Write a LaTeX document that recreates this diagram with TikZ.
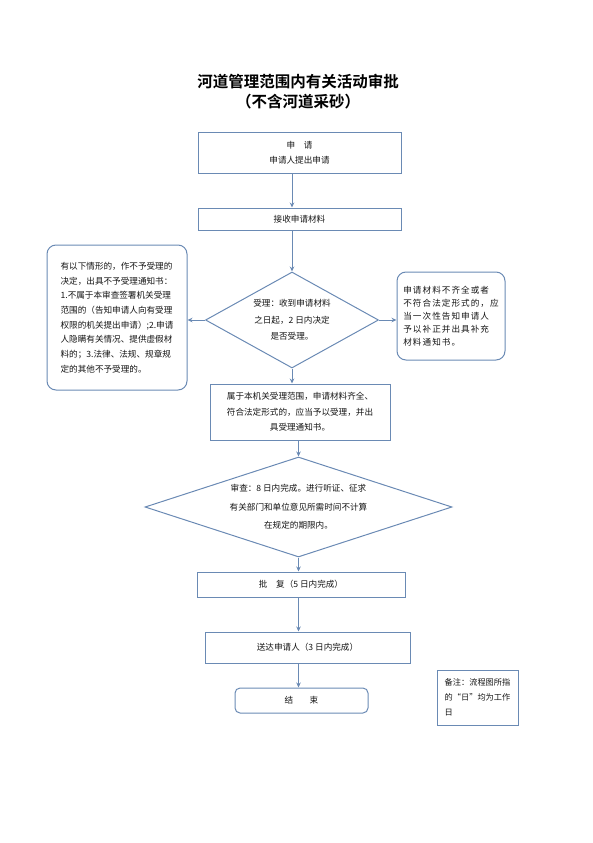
\documentclass[tikz,border=0pt]{standalone}
\usepackage{fontspec}
\setmainfont{Noto Sans CJK SC}
\newfontfamily\titlefont{Noto Sans CJK SC Bold}
\newfontfamily\widecjk[LetterSpace=12]{Noto Sans CJK SC}
\usetikzlibrary{shapes.geometric,arrows.meta}
\definecolor{flowline}{RGB}{106,138,180}
\definecolor{flowtext}{RGB}{20,20,20}
\begin{document}
\begin{tikzpicture}[x=1pt, y=-1pt,
    every node/.style={font=\fontsize{8.6}{15}\selectfont, text=flowtext, inner sep=0pt},
    stepbox/.style={draw=flowline, line width=1pt, rectangle, align=center},
    roundbox/.style={stepbox, rounded corners=9pt},
    decision/.style={draw=flowline, line width=1pt, diamond, align=center},
    flow/.style={draw=flowline, line width=1pt, -{Stealth[length=5pt,width=4.5pt]}}]
    \useasboundingbox (0,0) rectangle (593,843);
    \node[font=\titlefont\fontsize{15.5}{20}\selectfont, text=black, align=center] (title) at (298,92) {河道管理范围内有关活动审批\\（不含河道采砂）};
    \node[stepbox, minimum width=203, minimum height=41] (apply) at (299.5,152.5) {申　请\\申请人提出申请};
    \node[stepbox, minimum width=203, minimum height=22] (receive) at (299.5,219) {接收申请材料};
    \node[decision, minimum width=173, minimum height=96, aspect=1.8,
        font=\fontsize{8.6}{16.5}\selectfont] (check) at (292,320) {受理：收到申请材料\\之日起，2 日内决定\\是否受理。};
    \node[roundbox, align=left, minimum width=140, minimum height=145,
        font=\fontsize{8.6}{14.7}\selectfont] (reject) at (117,317.5) {有以下情形的，作不予受理的\\决定，出具不予受理通知书：\\1.不属于本审查签署机关受理\\范围的（告知申请人向有受理\\权限的机关提出申请）;2.申请\\人隐瞒有关情况、提供虚假材\\料的；3.法律、法规、规章规\\定的其他不予受理的。};
    \node[roundbox, align=left, minimum width=108, minimum height=88,
        font=\widecjk\fontsize{8.6}{13}\selectfont] (supplement) at (451,316) {申请材料不齐全或者\\不符合法定形式的，应\\当一次性告知申请人\\予以补正并出具补充\\材料通知书。};
    \node[stepbox, minimum width=180, minimum height=56,
        font=\fontsize{8.6}{15.5}\selectfont] (accept) at (300,412) {属于本机关受理范围，申请材料齐全、\\符合法定形式的，应当予以受理，并出\\具受理通知书。};
    \node[decision, minimum width=307, minimum height=100, aspect=3,
        font=\fontsize{8.6}{18.5}\selectfont] (review) at (298.5,507) {审查：8 日内完成。进行听证、征求\\有关部门和单位意见所需时间不计算\\在规定的期限内。};
    \node[stepbox, minimum width=208, minimum height=25] (reply) at (301,584.5) {批　复（5 日内完成）};
    \node[stepbox, minimum width=205, minimum height=31] (deliver) at (307.5,647.5) {送达申请人（3 日内完成）};
    \node[stepbox, rounded corners=5pt, minimum width=133, minimum height=25] (finish) at (301.5,700.5) {结\hspace{1.9em}束};
    \node[stepbox, align=left, minimum width=81, minimum height=55,
        font=\fontsize{8.2}{15}\selectfont] (remark) at (477.5,697.5) {备注：流程图所指\\的“日”均为工作\\日};
    \draw[flow] (apply.south -| check.north) -- (receive.north -| check.north);
    \draw[flow] (receive.south -| check.north) -- (check.north);
    \draw[flow] (check.west) -- (check.west -| reject.east);
    \draw[flow] (check.east) -- (check.east -| supplement.west);
    \draw[flow] (check.south) -- (check.south |- accept.north);
    \draw[flow] (accept.south -| review.north) -- (review.north);
    \draw[flow] (review.south) -- (review.south |- reply.north);
    \draw[flow] (reply.south -| review.south) -- (deliver.north -| review.south);
    \draw[flow] (deliver.south -| review.south) -- (finish.north -| review.south);
\end{tikzpicture}
\end{document}
